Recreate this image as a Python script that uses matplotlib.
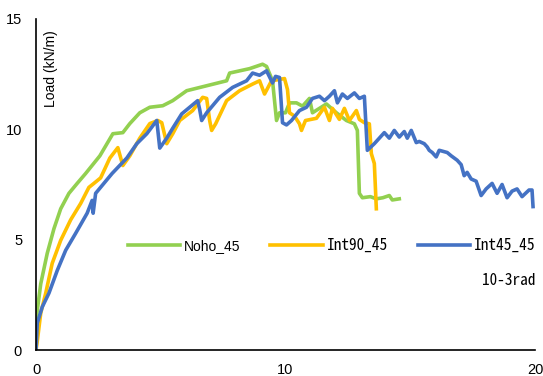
import matplotlib
matplotlib.use("Agg")
import matplotlib.pyplot as plt

# 荷重-変形角 (10^-3 rad) の測定値
noho_x = [0, 0.19, 0.45, 0.72, 0.99, 1.32, 1.65, 1.99, 2.56, 3.08,
          3.48, 3.76, 4.16, 4.56, 5.08, 5.48, 6.04, 7.64, 7.76, 8.56,
          9.08, 9.24, 9.48, 9.64, 9.76, 10.0, 10.16, 10.44, 10.68, 10.96,
          11.08, 11.64, 12.04, 12.44, 12.76, 12.88, 12.96, 13.08, 13.4, 13.64,
          13.9, 14.16, 14.28, 14.56]
noho_y = [1.35, 3.0, 4.38, 5.5, 6.4, 7.1, 7.55, 8.0, 8.8, 9.8,
          9.85, 10.26, 10.75, 11.0, 11.07, 11.3, 11.75, 12.2, 12.55, 12.75,
          12.95, 12.85, 12.2, 10.4, 10.75, 10.75, 11.2, 11.2, 11.05, 11.4,
          10.75, 11.15, 10.75, 10.4, 10.25, 9.95, 7.1, 6.9, 6.95, 6.85,
          6.9, 7.0, 6.8, 6.85]

int90_x = [0, 0.04, 0.19, 0.39, 0.65, 0.99, 1.39, 1.79, 2.12, 2.32,
           2.59, 2.96, 3.28, 3.48, 3.76, 4.16, 4.56, 4.88, 5.04, 5.24,
           5.48, 5.76, 6.28, 6.68, 6.84, 6.96, 7.04, 7.2, 7.64, 8.16,
           8.68, 8.96, 9.16, 9.44, 9.96, 10.08, 10.16, 10.36, 10.56, 10.64,
           10.8, 11.24, 11.56, 11.76, 11.88, 12.16, 12.36, 12.56, 12.84, 12.96,
           13.16, 13.36, 13.44, 13.56, 13.64]
int90_y = [0, 0.3, 1.67, 2.58, 3.93, 4.97, 5.9, 6.64, 7.37, 7.55,
           7.8, 8.7, 9.17, 8.36, 8.8, 9.6, 10.26, 10.4, 10.3, 9.35,
           9.8, 10.4, 10.85, 11.45, 11.4, 10.4, 9.95, 10.25, 11.3, 11.75,
           12.05, 12.2, 11.6, 12.2, 12.3, 11.8, 10.75, 10.6, 10.25, 9.95,
           10.4, 10.5, 11.0, 10.4, 10.95, 10.45, 10.95, 10.4, 10.85, 10.45,
           10.3, 10.25, 8.9, 8.45, 6.4]

int45_x = [0, 0.05, 0.25, 0.52, 0.85, 1.19, 1.59, 2.05, 2.25, 2.29,
           2.39, 2.72, 3.05, 3.64, 4.04, 4.44, 4.84, 4.96, 5.24, 5.48,
           5.84, 6.16, 6.48, 6.56, 6.64, 6.84, 7.36, 7.88, 8.44, 8.68,
           8.96, 9.24, 9.48, 9.6, 9.76, 9.88, 10.04, 10.24, 10.56, 10.84,
           11.08, 11.36, 11.56, 11.76, 11.96, 12.08, 12.28, 12.48, 12.76, 12.96,
           13.16, 13.28, 13.56, 13.76, 13.96, 14.16, 14.36, 14.56, 14.76, 14.88,
           15.04, 15.24, 15.36, 15.56, 15.68, 15.76, 15.88, 16.04, 16.16, 16.48,
           16.64, 16.88, 17.04, 17.16, 17.28, 17.44, 17.64, 17.84, 18.04, 18.28,
           18.48, 18.68, 18.88, 19.08, 19.28, 19.48, 19.76, 19.88, 19.92]
int45_y = [0, 1.22, 1.95, 2.58, 3.6, 4.52, 5.29, 6.2, 6.78, 6.2,
           7.1, 7.55, 8.0, 8.7, 9.35, 9.8, 10.4, 9.15, 9.6, 10.05,
           10.7, 11.0, 11.3, 10.9, 10.4, 10.75, 11.45, 11.9, 12.2, 12.55,
           12.45, 12.65, 12.1, 12.4, 12.35, 10.3, 10.2, 10.4, 10.85, 11.0,
           11.4, 11.5, 11.3, 11.5, 11.75, 11.2, 11.6, 11.4, 11.65, 11.4,
           11.5, 9.05, 9.35, 9.6, 9.85, 9.6, 9.95, 9.65, 9.9, 9.6,
           9.95, 9.4, 9.45, 9.35, 9.2, 9.05, 8.95, 8.75, 9.05, 8.95,
           8.8, 8.6, 8.4, 7.9, 8.05, 7.75, 7.65, 7.0, 7.3, 7.55,
           7.1, 7.5, 6.9, 7.2, 7.3, 6.95, 7.25, 7.25, 6.5]

x_ticks = [0, 10, 20]
y_ticks = [0, 5, 10, 15]

plt.rcParams['font.family'] = ['Liberation Sans', 'DejaVu Sans']
mono = ['Noto Sans Mono CJK JP', 'Liberation Mono', 'DejaVu Sans Mono']

fig = plt.figure(figsize=(5.43, 3.76), dpi=100)
ax = fig.add_axes([0.0663, 0.0691, 0.919, 0.8804])

lw = 2.6
ax.plot(noho_x, noho_y, color='#92D050', lw=lw, label='Noho_45')
ax.plot(int90_x, int90_y, color='#FFC000', lw=lw, label='Int90_45')
ax.plot(int45_x, int45_y, color='#4472C4', lw=lw, label='Int45_45')

ax.set_xlim(0, 20)
ax.set_ylim(0, 15)
ax.set_xticks(x_ticks)
ax.set_yticks(y_ticks)
ax.tick_params(length=0, labelsize=10.5)
ax.tick_params(axis='x', pad=9)
ax.tick_params(axis='y', pad=10)
for s in ['top', 'right']:
    ax.spines[s].set_visible(False)
for s in ['left', 'bottom']:
    ax.spines[s].set_linewidth(1.2)

ax.text(0.03, 0.967, 'Load (kN/m)', transform=ax.transAxes, rotation=90,
        ha='center', va='top', fontsize=10)
ax.text(1.0, 0.211, '10-3rad', transform=ax.transAxes, ha='right',
        va='center', fontsize=11, family=mono)

leg = ax.legend(loc='center left', bbox_to_anchor=(0.184, 0.317), ncol=3,
                frameon=False, fontsize=10, handlelength=3.75,
                handletextpad=0.3, columnspacing=2.15, borderpad=0,
                borderaxespad=0)
for t in leg.get_texts()[1:]:
    t.set_family(mono)
    t.set_fontsize(11)

fig.savefig('out.png', dpi=100)
